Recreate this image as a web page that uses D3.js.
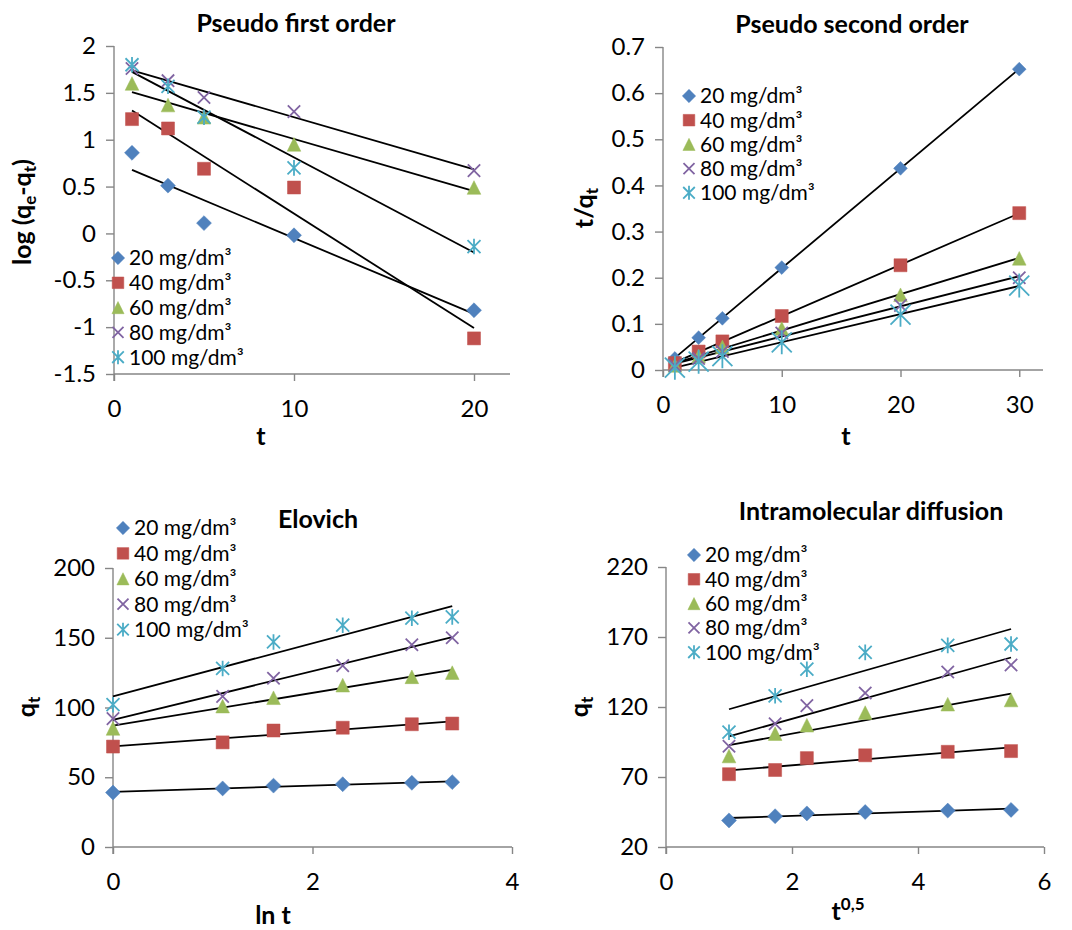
<!DOCTYPE html>
<html>
<head>
<meta charset="utf-8">
<script src="https://cdn.jsdelivr.net/npm/d3@7"></script>
<style>
  body { margin: 0; background: #fff; }
  svg { font-family: Lato, "Noto Sans", sans-serif; }
</style>
</head>
<body>
<svg id="chart" width="1072" height="930"></svg>
<script>
// series names shared by all four panels
var seriesNames = ["20 mg/dm³", "40 mg/dm³", "60 mg/dm³", "80 mg/dm³", "100 mg/dm³"];
var seriesColors = ["#4F81BD", "#C0504D", "#9BBB59", "#8064A2", "#4BACC6"];
var seriesShapes = ["diamond", "square", "triangle", "cross", "star"];

// pseudo first order: log(qe-qt) vs t
var pfoT = [1, 3, 5, 10, 20];
var pfoValues = [
  [0.86, 0.51, 0.11, -0.02, -0.82],
  [1.22, 1.12, 0.69, 0.49, -1.12],
  [1.60, 1.37, 1.24, 0.95, 0.49],
  [1.76, 1.63, 1.45, 1.30, 0.67],
  [1.80, 1.57, 1.24, 0.70, -0.14]
];

// pseudo second order: t/qt vs t
var psoT = [1, 3, 5, 10, 20, 30];
var psoValues = [
  [0.025, 0.070, 0.112, 0.222, 0.437, 0.652],
  [0.015, 0.040, 0.062, 0.117, 0.227, 0.340],
  [0.010, 0.030, 0.050, 0.090, 0.163, 0.242],
  [0.010, 0.025, 0.040, 0.080, 0.140, 0.200],
  [0.005, 0.018, 0.030, 0.060, 0.120, 0.183]
];

// qt values used by Elovich and intraparticle diffusion plots
var lnT = [0, 1.099, 1.609, 2.303, 2.996, 3.401];
var sqrtT = [1, 1.732, 2.236, 3.162, 4.472, 5.477];
var qtValues = [
  [39, 42, 44, 45, 46, 46.5],
  [72, 75, 83.5, 85.5, 88, 88.5],
  [85, 101, 107, 116, 122, 125],
  [92, 108, 121, 130, 145, 150],
  [102, 128, 147, 159, 164, 165]
];

var svg = d3.select("#chart");
var axisColor = "#868686";

function fitLine(xs, ys) {
  var mx = d3.mean(xs), my = d3.mean(ys);
  var sxy = d3.sum(xs, function(x, i) { return (x - mx) * (ys[i] - my); });
  var sxx = d3.sum(xs, function(x) { return (x - mx) * (x - mx); });
  var b = sxy / sxx;
  return { slope: b, icpt: my - b * mx };
}

function markerPath(shape, s) {
  // s = half size
  if (shape == "diamond") return "M0," + (-s) + "L" + s + ",0L0," + s + "L" + (-s) + ",0Z";
  if (shape == "square") return "M" + (-s) + "," + (-s) + "H" + s + "V" + s + "H" + (-s) + "Z";
  if (shape == "triangle") return "M0," + (-s) + "L" + s + "," + s + "L" + (-s) + "," + s + "Z";
  if (shape == "cross") return "M" + (-s) + "," + (-s) + "L" + s + "," + s + "M" + s + "," + (-s) + "L" + (-s) + "," + s;
  // star: x plus vertical bar
  return "M" + (-s) + "," + (-s) + "L" + s + "," + s + "M" + s + "," + (-s) + "L" + (-s) + "," + s +
         "M0," + (-s * 1.2) + "V" + (s * 1.2);
}

// per-shape size factor so shapes look the same size as in Excel
var shapeScale = { diamond: 1.15, square: 1.0, triangle: 1.05, cross: 0.95, star: 1.0 };

function drawMarker(g, shape, color, x, y, s) {
  var filled = (shape == "diamond" || shape == "square" || shape == "triangle");
  g.append("path")
   .attr("transform", "translate(" + x + "," + y + ")")
   .attr("d", markerPath(shape, s * shapeScale[shape]))
   .attr("fill", filled ? color : "none")
   .attr("stroke", color)
   .attr("stroke-width", filled ? 0.5 : 1.8);
}

function drawPanel(p) {
  var g = svg.append("g");
  var x = d3.scaleLinear().domain(p.xDomain).range(p.xRange);
  var y = d3.scaleLinear().domain(p.yDomain).range(p.yRange);

  // axes
  var xAxis = d3.axisBottom(x).tickValues(p.xTicks).tickSize(7).tickFormat(d3.format("d"));
  var yAxis = d3.axisLeft(y).tickValues(p.yTicks).tickSize(8).tickFormat(p.yFormat);

  var gx = g.append("g").attr("transform", "translate(0," + p.yRange[0] + ")").call(xAxis);
  var gy = g.append("g").attr("transform", "translate(" + p.xRange[0] + ",0)").call(yAxis);
  [gx, gy].forEach(function(a) {
    a.select(".domain").attr("stroke", axisColor).attr("stroke-width", 1.4);
    a.selectAll(".tick line").attr("stroke", axisColor).attr("stroke-width", 1.4);
    a.selectAll(".tick text").attr("fill", "#000").attr("font-size", 24)
     .attr("font-family", "Lato, sans-serif");
  });
  gx.selectAll(".tick text").attr("y", 26).attr("dy", "0.71em");
  gy.selectAll(".tick text").attr("x", -18);
  // extend x domain line across full range, y-axis stub below
  gx.select(".domain").attr("d", "M" + p.xRange[0] + ",0H" + p.xRange[1]);
  gy.select(".domain").attr("d", "M0," + p.yRange[1] + "V" + (p.yRange[0] + 7));

  // trend lines
  var gl = g.append("g");
  p.values.forEach(function(vals, i) {
    var f = fitLine(p.xs, vals);
    var x0 = d3.min(p.xs), x1 = d3.max(p.xs);
    gl.append("line")
      .attr("x1", x(x0)).attr("y1", y(f.icpt + f.slope * x0))
      .attr("x2", x(x1)).attr("y2", y(f.icpt + f.slope * x1))
      .attr("stroke", "#000").attr("stroke-width", 1.8);
  });

  // markers
  var gm = g.append("g");
  p.values.forEach(function(vals, i) {
    vals.forEach(function(v, j) {
      var s = p.markerSize[i];
      drawMarker(gm, seriesShapes[i], seriesColors[i], x(p.xs[j]), y(v), s);
    });
  });

  // legend
  var lg = g.append("g");
  seriesNames.forEach(function(name, i) {
    var ly = p.legend.y + i * p.legend.step;
    drawMarker(lg, seriesShapes[i], seriesColors[i], p.legend.x, ly, 5.8);
    lg.append("text").attr("x", p.legend.x + 11).attr("y", ly).attr("dy", "0.35em")
      .attr("font-size", 21).text(name);
  });

  // title
  g.append("text").attr("x", p.title.x).attr("y", p.title.y).attr("text-anchor", "middle")
   .attr("font-size", 25).attr("font-weight", "bold").text(p.title.text);

  // x label
  var xl = g.append("text").attr("x", p.xLabel.x).attr("y", p.xLabel.y).attr("text-anchor", "middle")
   .attr("font-size", 25).attr("font-weight", "bold");
  p.xLabel.parts.forEach(function(pt) {
    var ts = xl.append("tspan").text(pt[0]);
    if (pt[1] == "sup") ts.attr("font-size", 17).attr("dy", -10);
  });

  // y label
  var yl = g.append("text")
   .attr("transform", "translate(" + p.yLabel.x + "," + p.yLabel.y + ") rotate(-90)")
   .attr("text-anchor", "middle").attr("font-size", 25).attr("font-weight", "bold");
  var shift = 0;
  p.yLabel.parts.forEach(function(pt) {
    var ts = yl.append("tspan").text(pt[0]);
    if (pt[1] == "sub") { ts.attr("font-size", 17).attr("dy", 5 - shift); shift = 5; }
    else { ts.attr("dy", -shift); shift = 0; }
  });
}

drawPanel({
  xs: pfoT, values: pfoValues,
  xDomain: [0, 22], xRange: [114, 510], xTicks: [0, 10, 20],
  yDomain: [-1.5, 2], yRange: [374, 46], yTicks: [-1.5, -1, -0.5, 0, 0.5, 1, 1.5, 2],
  yFormat: function(d) { return String(d); },
  markerSize: [6.5, 6.5, 6.5, 6.5, 6.5],
  legend: { x: 118, y: 258, step: 24.8 },
  title: { x: 296, y: 32, text: "Pseudo first order" },
  xLabel: { x: 261, y: 445, parts: [["t"]] },
  yLabel: { x: 31, y: 212, parts: [["log (q"], ["e", "sub"], ["-q"], ["t", "sub"], [")"]] }
});

drawPanel({
  xs: psoT, values: psoValues,
  xDomain: [0, 32], xRange: [663, 1043], xTicks: [0, 10, 20, 30],
  yDomain: [0, 0.7], yRange: [370, 47], yTicks: [0, 0.1, 0.2, 0.3, 0.4, 0.5, 0.6, 0.7],
  yFormat: function(d) { return d === 0 ? "0" : d3.format(".1f")(d); },
  markerSize: [6, 6.5, 6.5, 6.5, 10],
  legend: { x: 689, y: 96, step: 24.2 },
  title: { x: 852, y: 33, text: "Pseudo second order" },
  xLabel: { x: 846, y: 445, parts: [["t"]] },
  yLabel: { x: 593, y: 208, parts: [["t/q"], ["t", "sub"]] }
});

drawPanel({
  xs: lnT, values: qtValues,
  xDomain: [0, 4], xRange: [113, 512], xTicks: [0, 2, 4],
  yDomain: [0, 200], yRange: [847, 568], yTicks: [0, 50, 100, 150, 200],
  yFormat: d3.format("d"),
  markerSize: [6.5, 6.5, 6.5, 6.5, 6.5],
  legend: { x: 123, y: 528, step: 25.4 },
  title: { x: 318, y: 528, text: "Elovich" },
  xLabel: { x: 273, y: 924, parts: [["ln t"]] },
  yLabel: { x: 35, y: 707, parts: [["q"], ["t", "sub"]] }
});

drawPanel({
  xs: sqrtT, values: qtValues,
  xDomain: [0, 6], xRange: [666, 1044], xTicks: [0, 2, 4, 6],
  yDomain: [20, 220], yRange: [847, 567], yTicks: [20, 70, 120, 170, 220],
  yFormat: d3.format("d"),
  markerSize: [6.5, 6.5, 6.5, 6.5, 6.5],
  legend: { x: 694, y: 555, step: 24.3 },
  title: { x: 871, y: 520, text: "Intramolecular diffusion" },
  xLabel: { x: 848, y: 920, parts: [["t"], ["0,5", "sup"]] },
  yLabel: { x: 588, y: 707, parts: [["q"], ["t", "sub"]] }
});
</script>
</body>
</html>
